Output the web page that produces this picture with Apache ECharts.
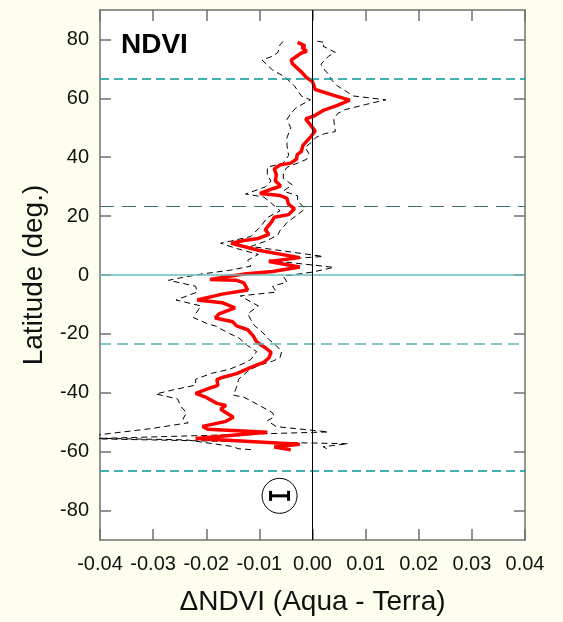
<!DOCTYPE html>
<html>
<head>
<meta charset="utf-8">
<script src="https://cdn.jsdelivr.net/npm/echarts@6/dist/echarts.min.js"></script>
<style>
  html, body { margin: 0; padding: 0; background: #fefeee; }
  #main { width: 563px; height: 622px; }
</style>
</head>
<body>
<div id="main"></div>
<script>
// mean difference (red), latitude vs delta NDVI
var meanLat = [79, 77.8, 77.2, 76.0, 75.4, 73.0, 71.8, 69.0, 67.0, 65.7, 63.0, 61.0, 59.4, 57.6, 55.9, 54.0, 53.0, 52.5, 51.0, 48.9,
  46.8, 44.0, 42.0, 40.8, 39.4, 38.0, 37.4, 36.0, 34.0, 32.0, 30.2, 29.3, 27.7, 27.0, 26.0, 24.0, 22.5, 20.5, 19.6, 17.8,
  15.4, 13.8, 12.4, 11.7, 10.8, 8.4, 5.9, 4.6, 2.7, 1.2, 0.3, -0.4, -1.5, -1.8, -2.7, -5.1, -6.5, -8.5, -9.4, -11.2,
  -13.2, -14.6, -15.9, -17.3, -18.6, -20.6, -22.7, -24.7, -26.3, -28.1, -29.7, -31.4, -33.5, -34.8, -35.5, -37.5, -38.2, -40.2, -41.6, -43.6,
  -44.3, -45.6, -48.3, -49.7, -51.4, -52.4, -53.4, -55.5, -57.5, -58.4, -59.4];
var meanDiff = [-0.0028, -0.0014, -0.0020, -0.0011, -0.0021, -0.0040, -0.0038, -0.0021, -0.0011, 0.0000, 0.0005, 0.0040, 0.0070, 0.0047, 0.0020, 0.0003, -0.0013, -0.0010, -0.0004, 0.0005,
  -0.0004, -0.0018, -0.0021, -0.0029, -0.0030, -0.0041, -0.0061, -0.0072, -0.0068, -0.0070, -0.0060, -0.0075, -0.0099, -0.0061, -0.0048, -0.0045, -0.0034, -0.0045, -0.0072, -0.0078,
  -0.0089, -0.0082, -0.0102, -0.0129, -0.0153, -0.0102, -0.0024, -0.0082, -0.0024, -0.0075, -0.0129, -0.0156, -0.0193, -0.0143, -0.0129, -0.0122, -0.0170, -0.0217, -0.0170, -0.0146,
  -0.0176, -0.0183, -0.0150, -0.0143, -0.0122, -0.0112, -0.0105, -0.0089, -0.0078, -0.0082, -0.0092, -0.0116, -0.0143, -0.0170, -0.0180, -0.0178, -0.0190, -0.0220, -0.0200, -0.0180,
  -0.0163, -0.0173, -0.0149, -0.0163, -0.0207, -0.0197, -0.0085, -0.0220, -0.0024, -0.0072, -0.0041];

// lower bound (left dashed)
var lowLat = [79.3, 78.3, 75.6, 74.3, 73.0, 71.3, 69.6, 67.6, 65.5, 64.2, 60.8, 59.5, 56.8, 54.8, 52.8, 50.0, 46.7, 44.0, 40.6, 38.0,
  36.6, 34.0, 31.9, 29.9, 27.5, 26.5, 24.5, 21.8, 19.5, 17.1, 15.7, 13.1, 11.7, 10.8, 9.0, 7.0, 5.0, 3.0, 1.6, 0.3,
  -1.0, -1.8, -3.8, -5.8, -8.5, -10.5, -13.2, -14.5, -16.6, -17.3, -19.9, -21.3, -24.0, -26.0, -28.7, -30.0, -32.0, -33.4, -35.4, -37.4,
  -38.8, -40.4, -42.1, -44.8, -46.8, -48.9, -50.2, -52.2, -55.3, -56.0, -58.3, -59.0, -59.4];
var lowDiff = [-0.0055, -0.0061, -0.0065, -0.0075, -0.0095, -0.0085, -0.0075, -0.0055, -0.0041, -0.0034, -0.0021, -0.0004, -0.0031, -0.0041, -0.0048, -0.0041, -0.0048, -0.0048, -0.0045, -0.0055,
  -0.0085, -0.0085, -0.0078, -0.0089, -0.0126, -0.0092, -0.0078, -0.0061, -0.0085, -0.0095, -0.0102, -0.0116, -0.0149, -0.0173, -0.0143, -0.0102, -0.0122, -0.0116, -0.0156, -0.0210,
  -0.0250, -0.0271, -0.0220, -0.0217, -0.0257, -0.0210, -0.0220, -0.0224, -0.0197, -0.0183, -0.0156, -0.0139, -0.0122, -0.0105, -0.0116, -0.0129, -0.0156, -0.0190, -0.0220, -0.0220,
  -0.0257, -0.0295, -0.0254, -0.0247, -0.0237, -0.0244, -0.0234, -0.0305, -0.0450, -0.0237, -0.0149, -0.0140, -0.0109];

// upper bound (right dashed)
var highLat = [79.4, 79.0, 77.7, 75.6, 74.3, 71.6, 69.6, 68.2, 66.2, 64.2, 60.8, 59.5, 57.9, 56.1, 54.8, 52.8, 48.7, 48.0, 46.7, 45.4,
  43.3, 41.3, 39.3, 38.0, 36.6, 34.6, 32.8, 30.6, 28.5, 26.9, 25.2, 22.5, 20.5, 17.8, 15.1, 13.7, 11.7, 9.7, 6.3, 5.0,
  2.6, 1.0, -0.4, -2.4, -3.8, -5.8, -7.1, -10.5, -13.2, -15.2, -17.2, -19.3, -21.9, -24.0, -26.0, -28.0, -29.3, -30.7, -32.7, -35.4,
  -38.1, -40.8, -41.5, -44.1, -46.8, -48.2, -49.5, -51.5, -53.3, -55.6, -57.3, -58.3, -59.4];
var highDiff = [0.0009, 0.0023, 0.0020, 0.0043, 0.0030, 0.0016, 0.0023, 0.0030, 0.0036, 0.0047, 0.0077, 0.0138, 0.0100, 0.0060, 0.0047, 0.0040, 0.0043, 0.0023, 0.0006, 0.0000,
  -0.0014, -0.0007, -0.0011, -0.0028, -0.0048, -0.0055, -0.0055, -0.0038, -0.0055, -0.0028, -0.0028, -0.0014, -0.0028, -0.0048, -0.0061, -0.0065, -0.0085, -0.0116, 0.0020, -0.0082,
  0.0040, 0.0000, -0.0055, -0.0048, -0.0075, -0.0068, -0.0136, -0.0102, -0.0122, -0.0116, -0.0109, -0.0095, -0.0082, -0.0068, -0.0058, -0.0061, -0.0075, -0.0102, -0.0122, -0.0139,
  -0.0143, -0.0149, -0.0129, -0.0102, -0.0075, -0.0072, -0.0085, -0.0068, 0.0030, -0.0420, 0.0067, 0.0020, 0.0030];

var latTicks = [-80, -60, -40, -20, 0, 20, 40, 60, 80];
var refLats = [66.5, 23.5, 0, -23.5, -66.5];
var errBar = [[-0.0062, -75]];

function pairs(xs, ys) {
  return ys.map(function (y, i) { return [xs[i], y]; });
}

var chart = echarts.init(document.getElementById('main'));

var refStyles = [
  { color: '#009a9a', width: 1.5, type: [9, 5] },
  { color: '#3a7070', width: 1.2, type: [14, 8] },
  { color: '#6cbcbc', width: 1.6, type: 'solid' },
  { color: '#5fb4b4', width: 1.6, type: [11, 6] },
  { color: '#009a9a', width: 1.5, type: [9, 5] }
];
var markData = refLats.map(function (v, i) {
  return { yAxis: v, lineStyle: refStyles[i] };
});
markData.push({ xAxis: 0, lineStyle: { color: '#000', width: 1, type: 'solid' } });

var axisCol = '#707070';
var labelFont = { color: '#111', fontSize: 20, fontFamily: 'Liberation Sans, Arial, sans-serif' };
var axLine = { onZero: false, lineStyle: { color: axisCol, width: 1.5 } };

var option = {
  backgroundColor: '#fefeee',
  animation: false,
  grid: { left: 100, right: 38, top: 10, bottom: 82, show: true, backgroundColor: '#fff', borderWidth: 0 },
  xAxis: [
    {
      type: 'value', min: -0.04, max: 0.04, interval: 0.01, position: 'bottom',
      name: '\u0394NDVI (Aqua - Terra)', nameLocation: 'middle', nameGap: 48,
      nameTextStyle: { color: '#111', fontSize: 28, fontFamily: 'Liberation Sans, Arial, sans-serif' },
      axisLine: axLine,
      axisTick: { inside: true, length: 11, lineStyle: { color: axisCol, width: 1.5 } },
      axisLabel: Object.assign({ margin: 14, formatter: function (v) { return v.toFixed(2); } }, labelFont),
      splitLine: { show: false }
    },
    {
      type: 'value', min: -0.04, max: 0.04, interval: 0.01, position: 'top',
      axisLine: axLine,
      axisTick: { inside: true, length: 11, lineStyle: { color: axisCol, width: 1.5 } },
      axisLabel: { show: false },
      splitLine: { show: false }
    }
  ],
  yAxis: [
    {
      type: 'value', min: -90, max: 90, position: 'left',
      name: 'Latitude (deg.)', nameLocation: 'middle', nameGap: 52, nameRotate: 90,
      nameTextStyle: { color: '#111', fontSize: 28, fontFamily: 'Liberation Sans, Arial, sans-serif' },
      axisLine: axLine,
      axisTick: { inside: true, length: 11, customValues: latTicks, lineStyle: { color: axisCol, width: 1.5 } },
      axisLabel: Object.assign({ margin: 11, customValues: latTicks }, labelFont),
      splitLine: { show: false }
    },
    {
      type: 'value', min: -90, max: 90, position: 'right',
      axisLine: axLine,
      axisTick: { inside: true, length: 11, customValues: latTicks, lineStyle: { color: axisCol, width: 1.5 } },
      axisLabel: { show: false },
      splitLine: { show: false }
    }
  ],
  graphic: [
    {
      type: 'text', x: 121, y: 45,
      style: { text: 'NDVI', fill: '#000', font: 'bold 28px Liberation Sans, Arial, sans-serif', textVerticalAlign: 'middle' }
    }
  ],
  series: [
    {
      type: 'custom', z: 1, silent: true,
      data: errBar,
      renderItem: function (params, api) {
        var p = api.coord([api.value(0), api.value(1)]);
        var cx = p[0], cy = p[1];
        var ls = { stroke: '#000', lineWidth: 3 };
        return {
          type: 'group',
          children: [
            { type: 'circle', shape: { cx: cx, cy: cy, r: 17.5 }, style: { fill: '#fff', stroke: '#000', lineWidth: 1 } },
            { type: 'line', shape: { x1: cx - 9, y1: cy, x2: cx + 9, y2: cy }, style: ls },
            { type: 'line', shape: { x1: cx - 9, y1: cy - 5, x2: cx - 9, y2: cy + 5 }, style: ls },
            { type: 'line', shape: { x1: cx + 9, y1: cy - 5, x2: cx + 9, y2: cy + 5 }, style: ls }
          ]
        };
      },
      markLine: { silent: true, symbol: 'none', label: { show: false }, data: markData }
    },
    {
      type: 'line', z: 3, data: pairs(lowDiff, lowLat), showSymbol: false, clip: true,
      lineStyle: { color: '#000', width: 1, type: [6, 4] }
    },
    {
      type: 'line', z: 3, data: pairs(highDiff, highLat), showSymbol: false, clip: true,
      lineStyle: { color: '#000', width: 1, type: [6, 4] }
    },
    {
      type: 'line', z: 4, data: pairs(meanDiff, meanLat), showSymbol: false, clip: true,
      lineStyle: { color: '#ff0000', width: 3.5 }
    }
  ]
};

chart.setOption(option);
</script>
</body>
</html>
